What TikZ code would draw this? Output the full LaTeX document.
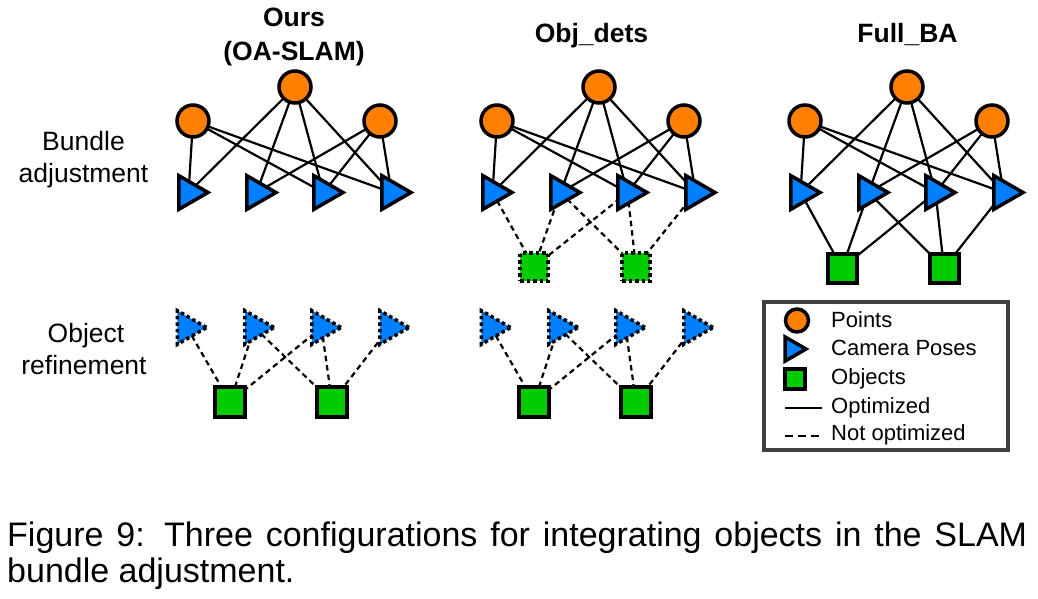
\documentclass[tikz,border=0pt]{standalone}
\usepackage{fontspec}
\setmainfont{Liberation Sans}
\usetikzlibrary{shapes.geometric,backgrounds}
\definecolor{ptorange}{RGB}{255,128,0}
\definecolor{camblue}{RGB}{0,128,255}
\definecolor{objgreen}{RGB}{0,204,0}
\definecolor{boxgray}{RGB}{64,64,64}
\begin{document}
\begin{tikzpicture}[x=1pt,y=-1pt,
    pnt/.style={circle,draw,line width=3.5pt,fill=ptorange,minimum size=32pt,inner sep=0pt},
    cam/.style={regular polygon,regular polygon sides=3,rotate=-90,draw,line width=3.5pt,
      fill=camblue,minimum size=39pt,inner sep=0pt},
    obj/.style={rectangle,draw,line width=4pt,fill=objgreen,minimum size=29pt,inner sep=0pt},
    dotborder/.style={dash pattern=on 3.5pt off 3pt},
    opt/.style={line width=2.2pt},
    notopt/.style={line width=2.2pt,dash pattern=on 5.5pt off 4pt},
    lbl/.style={anchor=base,inner sep=0pt,font=\fontsize{26.5}{32}\selectfont},
    ttl/.style={anchor=base,inner sep=0pt,font=\fontsize{26.5}{32}\selectfont\bfseries},
    legtext/.style={anchor=base west,inner sep=0pt,font=\fontsize{22}{26}\selectfont}]
  \useasboundingbox (0,0) rectangle (1038,598);
  % bundle adjustment row
  \foreach \p/\b in {a/195,b/499,c/807}{
    \node[pnt] (pt\p1) at (\b-2,121) {};
    \node[pnt] (pt\p2) at (\b+100,87) {};
    \node[pnt] (pt\p3) at (\b+185,121) {};
    \foreach \i/\dx in {1/0,2/68,3/135,4/203}
      \node[cam] (cam\p\i) at (\b-6.5+\dx,192.5) {};
  }
  \node[obj,dotborder,line width=3.5pt,minimum size=28pt] (tobjb1) at (534,267) {};
  \node[obj,dotborder,line width=3.5pt,minimum size=28pt] (tobjb2) at (636,267) {};
  \node[obj] (tobjc1) at (842,268) {};
  \node[obj] (tobjc2) at (944,268) {};
  % object refinement row
  \foreach \p/\b in {a/195,b/499}{
    \foreach \i/\dx in {1/0,2/67.5,3/134.5,4/202.5}
      \node[cam,dotborder] (rcam\p\i) at (\b-8+\dx,327.5) {};
    \node[obj,minimum size=30pt] (robj\p1) at (\b+35,402) {};
    \node[obj,minimum size=30pt] (robj\p2) at (\b+137,402) {};
  }
  \begin{scope}[on background layer]
    \foreach \p in {a,b,c}
      \foreach \s/\t in {1/1,1/3,1/4,2/1,2/2,2/3,2/4,3/2,3/3,3/4}
        \draw[opt] (pt\p\s.center) -- (cam\p\t.center);
    \foreach \i/\j in {1/1,2/1,3/1,2/2,3/2,4/2}{
      \draw[notopt] (camb\i.center) -- (tobjb\j.center);
      \draw[opt] (camc\i.center) -- (tobjc\j.center);
      \draw[notopt] (rcama\i.center) -- (robja\j.center);
      \draw[notopt] (rcamb\i.center) -- (robjb\j.center);
    }
  \end{scope}
  \node[ttl] (ttlours) at (294,26.5) {Ours};
  \node[ttl] (ttloa) at (294,60) {(OA-SLAM)};
  \node[ttl] (ttlobj) at (591.5,42) {Obj\_dets};
  \node[ttl] (ttlfull) at (907.5,42) {Full\_BA};
  \node[lbl] (lblba) at (83.5,150) {Bundle};
  \node[lbl] (lblbb) at (83.5,182.5) {adjustment};
  \node[lbl] (lblora) at (86,342) {Object};
  \node[lbl] (lblorb) at (84,374) {refinement};
  % legend
  \node[draw=boxgray,line width=4pt,minimum width=244pt,minimum height=148pt,inner sep=0pt] (legend) at (886,376) {};
  \node[pnt,minimum size=23pt] (legpt) at (797,320.5) {};
  \node[cam,minimum size=28pt] (legcam) at (792,349) {};
  \node[obj,minimum size=20pt] (legobj) at (795,378.5) {};
  \coordinate (legopta) at (785,408);
  \coordinate (legoptb) at (822,408);
  \coordinate (legnota) at (785,436);
  \coordinate (legnotb) at (820,436);
  \draw[opt] (legopta) -- (legoptb);
  \draw[opt,dash pattern=on 8pt off 5pt] (legnota) -- (legnotb);
  \node[legtext] (legtpt) at (831,327.3) {Points};
  \node[legtext] (legtcam) at (831,355) {Camera Poses};
  \node[legtext] (legtobj) at (831,384) {Objects};
  \node[legtext] (legtopt) at (831,413.3) {Optimized};
  \node[legtext] (legtnot) at (831,440) {Not optimized};
  % caption
  \node[anchor=base west,inner sep=0pt,font=\fontsize{34}{36}\selectfont] (capa) at (7,546)
    {\makebox[1020pt][s]{Figure 9: Three configurations for integrating objects in the SLAM}};
  \node[anchor=base west,inner sep=0pt,font=\fontsize{34}{36}\selectfont] (capb) at (7,582)
    {bundle adjustment.};
\end{tikzpicture}
\end{document}
